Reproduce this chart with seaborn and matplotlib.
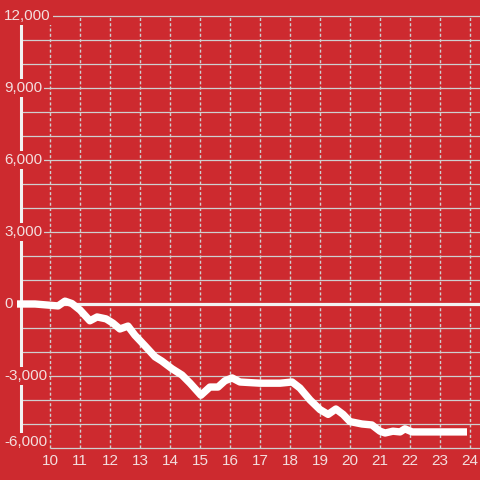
import numpy as np
import pandas as pd
import matplotlib
matplotlib.use("Agg")
import matplotlib.pyplot as plt
import seaborn as sns

# hour of day vs cumulative value
hours = [8.9, 9.5, 10.27, 10.5, 10.73, 11.0, 11.33, 11.57, 11.87, 12.1, 12.33,
         12.6, 12.83, 13.17, 13.5, 13.73, 14.07, 14.4, 14.67, 15.03, 15.33, 15.6,
         15.83, 16.07, 16.33, 17.0, 17.67, 18.07, 18.33, 18.67, 19.0, 19.27, 19.53,
         19.77, 20.0, 20.4, 20.73, 21.0, 21.17, 21.43, 21.67, 21.83, 22.07, 23.9]
values = [0, 0, -80, 120, 20, -250, -700, -540, -620, -800, -1040,
          -920, -1300, -1750, -2200, -2380, -2700, -2960, -3300, -3800, -3460, -3460,
          -3200, -3080, -3250, -3300, -3300, -3250, -3500, -4000, -4400, -4600, -4375,
          -4600, -4900, -5000, -5040, -5300, -5375, -5300, -5330, -5200, -5330, -5330]

x_ticks = list(range(10, 25))
y_grid = list(range(-6000, 12001, 1000))
y_labels = [12000, 9000, 6000, 3000, 0, -3000, -6000]

df = pd.DataFrame({"hour": hours, "value": values})

red = "#cd2a2f"
txt = "#f3dede"
grid = "#cfcfcf"

sns.set_style("white")
plt.rcParams["font.family"] = ["Liberation Sans", "DejaVu Sans"]

fig = plt.figure(figsize=(4.8, 4.8), dpi=100, facecolor=red)
ax = fig.add_axes([0, 0, 1, 1])
ax.set_facecolor(red)
ax.set_xlim(8.3333, 24.3333)
ax.set_ylim(-7333.3, 12666.7)
for s in ax.spines.values():
    s.set_visible(False)
ax.set_xticks([])
ax.set_yticks([])

# grid
for y in y_grid:
    if y == 0:
        continue
    x0 = 10 if y == -6000 else 9.03
    ax.hlines(y, x0, 24.3333, color=grid, lw=0.9, zorder=1)
ax.vlines(x_ticks, -6000, 12000, color=grid, lw=1, linestyles=(0, (2.2, 1.6)), zorder=1)

# y axis bar and zero line
ax.vlines(9.03, -6000, 11667, color="#f2f2f2", lw=2.2, zorder=2)
ax.hlines(0, 9.03, 24.3333, color="#f2f2f2", lw=2.3, zorder=2)

sns.lineplot(data=df, x="hour", y="value", ax=ax, color="white", lw=5.3,
             solid_joinstyle="round", solid_capstyle="butt", zorder=4)
ax.set_xlabel("")
ax.set_ylabel("")

for v in y_labels:
    yy = v + 230 if v == -6000 else v
    ax.text(8.47, yy, f"{v:,}", ha="left", va="center", fontsize=11, color=txt,
            zorder=5, bbox=dict(facecolor=red, edgecolor="none", pad=1.5))
for h in x_ticks:
    ax.text(h, -6560, str(h), ha="center", va="center", fontsize=11, color=txt, zorder=5)

fig.savefig("out.png", dpi=100, facecolor=red)
